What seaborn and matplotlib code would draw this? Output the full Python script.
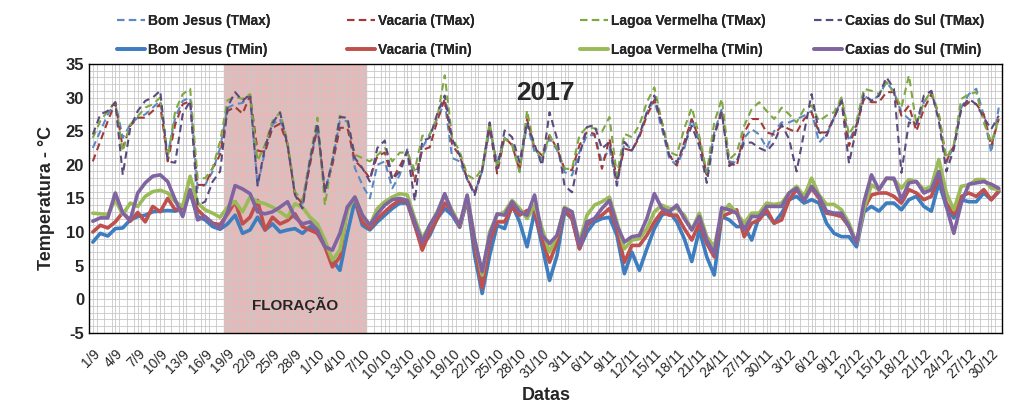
import numpy as np
import pandas as pd
import matplotlib
matplotlib.use('Agg')
import matplotlib.pyplot as plt
import seaborn as sns
from matplotlib.ticker import MultipleLocator

sns.set_style("white")
plt.rcParams['font.family'] = ['Liberation Sans Narrow', 'Liberation Sans', 'DejaVu Sans']
plt.rcParams['axes.unicode_minus'] = False

# ---- data (daily, 1/9/2017 .. 31/12/2017) ----
dates = pd.date_range('2017-09-01', '2017-12-31', freq='D')

bj_max = [22.5, 25, 27.5, 29.3, 24, 26, 27, 27.5, 28.5, 29.5, 21.5, 27, 29.5, 30, 16.5, 17, 19, 22.5,
          28.5, 29, 29.2, 30.3, 16.9, 22, 26, 26.8, 23, 15.7, 14.2, 20.5, 25.5, 15.9, 20.5, 26.5, 26.5,
          19.5, 17, 15, 20, 20.5, 16.5, 18.5, 22.3, 17.8, 22.5, 24.5, 26.8, 29.3, 21, 20.5, 17.8, 15.8, 19,
          25.3, 20.3, 24, 23.1, 19.2, 26, 21.9, 20.9, 23.9, 22.2, 18.9, 18.4, 21.9, 24.4, 24.4, 20.4, 22.4,
          16.9, 23.4, 22.1, 24.4, 27.8, 29.6, 25.4, 20.9, 19.9, 22.4,
          27, 23.3, 18.3, 24.8, 28.3, 20.5, 20.3, 24, 25.3, 24.5, 22.5, 25, 26.3, 26.3, 26.8, 27.3, 28, 23.3,
          24.5, 27, 29.8, 23.5, 26, 30.3, 29.5, 30.3, 32.3, 30.8, 27.8, 26.8, 26, 29.3, 30.8, 26.8, 20.3,
          22.8, 28.5, 30.5, 31.3, 27.3, 21.8, 28.5]
vac_max = [20.5, 23.5, 26.5, 29.2, 22.5, 25.8, 27, 27, 28, 29, 20.5, 26, 29, 29.5, 17, 17, 19.5, 21.5,
           28, 28.6, 27.6, 30.3, 22.1, 21.9, 25.5, 26.1, 23, 15.5, 14.2, 20, 25.6, 16, 20, 25.5, 25.5,
           20.6, 19.5, 18, 21.3, 21.8, 17.8, 19.8, 22, 17.5, 22.2, 22.6, 26.5, 29.8, 22.9, 21.4, 17.9, 15.9, 19.2,
           25.5, 18.7, 24.1, 22.9, 19.2, 26.8, 22.4, 21.4, 24.4, 22.4, 19.4, 19.2, 22.9, 24.9, 24.6, 19.4, 23.9,
           17.9, 22.4, 22.1, 24.1, 27.3, 29.6, 26.4, 21.4, 19.9, 23.4,
           26.8, 23.8, 18.5, 24.5, 28, 20.3, 19.8, 24.8, 26.8, 26.8, 24.8, 24.5, 25.8, 25.3, 24.8, 26.8, 27.8,
           24.8, 24.8, 27, 29.5, 22.8, 25.8, 29.8, 29.3, 29.3, 30.8, 30.8, 27.3, 28.8, 25, 28.3, 30.5, 27.5,
           20.5, 22.8, 28.3, 29.3, 29, 27.5, 22.8, 26.8]
lv_max = [24, 26.5, 28, 29.3, 22, 26, 27.2, 28.5, 29, 30, 21, 28, 30.5, 31.3, 18, 18, 19.5, 23.5,
          29.6, 30.1, 29.8, 30.5, 20.6, 23, 26.5, 27.8, 23.5, 16, 14.7, 21, 27, 14, 21, 27.3, 26.5,
          21.5, 21, 20.5, 21.4, 22.5, 20.5, 21.8, 21.8, 19.2, 24.3, 24.5, 27, 33.3, 24, 22, 18.5, 17.8, 19.5,
          26.3, 19.5, 23.9, 22.9, 18.9, 28.1, 22.4, 20.9, 24.4, 22.4, 19.4, 19.4, 24.4, 25.6, 25.4, 24.9, 27.1,
          18.4, 24.6, 24.1, 25.9, 29.3, 31.5, 26.4, 21.9, 21.4, 25.4,
          28.5, 24.3, 18.8, 26.3, 29.8, 20.8, 21.8, 25.8, 28.3, 29.3, 28, 26.8, 28.5, 27.5, 26.3, 28.3, 28.8,
          26.5, 27.3, 27.8, 30, 24.5, 26.5, 31.3, 31, 30.5, 32.3, 30.8, 28.5, 33.3, 26, 29.3, 31, 27.5, 21, 23,
          29.8, 30.5, 30.8, 26.3, 23.3, 26.8]
cs_max = [24.5, 27.5, 28, 29.3, 18.5, 25.5, 28, 29.5, 30, 31, 20.5, 20.3, 27.5, 29.5, 14, 14.5, 17.5, 19,
          28.6, 30.8, 29.5, 30.5, 16.9, 22.6, 26.2, 27.8, 23, 15.5, 13.5, 20.6, 26.2, 15.9, 20.6, 27.1, 27,
          21, 19.5, 17.5, 22.5, 23.6, 17.8, 19, 22, 14.6, 23.5, 24, 27.6, 30.3, 23.8, 21.4, 17.9, 15.5, 19.2,
          26.3, 19.4, 25.1, 24.1, 20.4, 26.3, 23, 19.9, 27.8, 23.9, 16.9, 15.9, 21.4, 25.6, 25.9, 22.4, 23.4,
          16.9, 23.4, 22.1, 24.4, 27.8, 30.3, 25.9, 21.4, 20.4, 22.9,
          25.8, 22.8, 17.3, 24.3, 27.8, 19.8, 20.5, 23.3, 23.3, 22.5, 22, 23.3, 26, 23.8, 19, 24.8, 30.5, 24.8,
          24.3, 27, 29.5, 20.2, 25.5, 30.5, 29.5, 30.3, 33, 31.3, 18.8, 26.3, 26, 30.3, 31, 26.5, 19, 22.3,
          28.5, 29.8, 29, 27, 25.3, 27.3]

bj_min = [8.5, 9.8, 9.4, 10.5, 10.6, 11.8, 12.3, 12.5, 13, 13.1, 13.2, 13.1, 13.5, 15.8, 12.3, 11.8, 10.8, 10.4,
          11.2, 12.5, 9.8, 10.3, 12.2, 10.3, 11.2, 10, 10.3, 10.5, 9.8, 10.8, 9.8, 8.3, 5.8, 4.3, 9.8,
          14.7, 11, 10.3, 11.5, 12.5, 13.5, 14.3, 14.3, 11, 8, 9.5, 12, 13.5, 12.5, 10.7, 14.8, 6.5, 0.85,
          6.5, 11, 10.5, 14, 11.5, 7.8, 13, 8, 2.8, 6.5, 13, 12, 7.5, 10, 11.5, 12, 12.2, 9.5, 3.8, 7,
          4.3, 7.5, 10.5, 12.5, 13, 11.5, 9,
          5.6, 10.3, 6.3, 3.6, 12.3, 11.8, 10.8, 10.8, 8.8, 12.3, 12.8, 11.3, 12.8, 14.8, 15.3, 14.3, 14.8,
          14.3, 11.3, 9.8, 9.3, 9.3, 7.8, 13, 13.8, 13.1, 14.3, 14.3, 13.3, 14.8, 15.3, 13.8, 13.1, 17.3,
          13.8, 12.1, 14.8, 14.5, 14.5, 15.8, 14.8, 16]
vac_min = [10, 11, 10.6, 11.5, 12.9, 11.6, 12.9, 11.5, 13.8, 13, 15, 13.3, 13.6, 16, 13.3, 12.2, 11.3, 11.1,
           12.7, 14.5, 11.2, 12.2, 14.7, 10.3, 12.2, 11.2, 11.7, 12.7, 10.8, 10.3, 9.8, 7.8, 4.8, 6.3, 13.7,
           15, 11.5, 10.5, 12, 13, 14, 14.7, 14.5, 11, 7.3, 10, 12, 14.3, 13, 10.8, 15, 8, 1.7,
           8.5, 11.5, 11.5, 13.7, 12.5, 13.2, 13, 9, 5.5, 8.5, 13.5, 12, 7.5, 11, 12, 12.5, 13.5, 10.5, 5.5, 8,
           8, 9.5, 11.5, 13, 12.5, 12.5, 10.5,
           8.8, 11.3, 8.3, 6.3, 12.3, 12.8, 13.3, 9.3, 11.3, 11.8, 13.3, 11.3, 11.8, 14.8, 16.3, 14.8, 16.5,
           15, 12.8, 12.6, 12.3, 10.8, 8.3, 13.5, 15.5, 15.8, 15.8, 15.3, 14.3, 16.3, 15.8, 14.8, 15.3, 18.3,
           14.3, 12.6, 15.3, 15.8, 15.3, 16.3, 14.8, 16.1]
lv_min = [12.8, 12.7, 12.6, 14.8, 12.6, 14.3, 13.8, 15.3, 16, 16.2, 15.8, 14.5, 13.8, 18.3, 14.3, 13.3, 12.8, 12.2,
          13.7, 14.5, 13, 15.2, 14.5, 14.2, 13.7, 13, 12.2, 14.2, 13.7, 12.2, 11.2, 8.8, 5.8, 7.3, 13.2,
          15.2, 12.5, 11, 13.5, 14.5, 15.2, 15.7, 15.5, 12, 9, 11, 13, 15.5, 13.2, 11, 15.3, 9, 3.6,
          10, 12.5, 13, 14.7, 13.5, 12, 14, 10.5, 7, 9.5, 13.7, 13, 8.5, 12.5, 14, 14.5, 15.2, 11.5, 7.5, 8.8,
          9, 10.5, 13, 14, 13.5, 13.5, 12.5,
          10.3, 12.8, 9.3, 7.8, 12.8, 14.1, 12.8, 11.3, 12.8, 12.8, 14.3, 14.1, 14.3, 15.8, 16.8, 15.3, 18,
          15.5, 14.1, 14.1, 13.3, 11.3, 8.3, 13.5, 17, 16.3, 18, 17.8, 16.5, 17.8, 17.5, 16.3, 16.8, 20.8,
          15.8, 13.3, 16.8, 17, 17.8, 17.8, 16.5, 16.3]
cs_min = [11.6, 12.1, 12.1, 15.8, 12.8, 11.8, 15.8, 17.3, 18.3, 18.5, 17.5, 14.8, 12.3, 16.3, 11.8, 12.3, 11.3, 10.5,
          13, 16.9, 16.4, 15.7, 13, 12.7, 13, 13.7, 14.5, 12.2, 11.2, 11.5, 10.3, 7.8, 7.3, 9.8, 13.7,
          15.2, 12.5, 11, 12.7, 14, 14.8, 15, 14.7, 11.5, 8.5, 11, 12.8, 15.7, 12.8, 11, 15.5, 8.8, 4.1,
          9.5, 12.7, 12.5, 14.5, 13, 12.5, 15.5, 9.5, 8.3, 9.5, 13.5, 13, 8, 11.5, 12, 13.5, 14.7, 11, 8.5, 9.3,
          9.5, 12, 15.7, 13.5, 13, 14, 12,
          10.3, 12.3, 8.8, 6.8, 13.6, 13.3, 12.8, 10.3, 12.3, 12.3, 13.8, 13.8, 13.8, 15.8, 16.5, 14.6, 16.8,
          15.3, 13.1, 12.8, 12.8, 10.8, 8.3, 14.5, 18.5, 16.3, 18, 18, 14.8, 17.3, 17.5, 15.8, 16.3, 19,
          13.8, 9.8, 14.3, 17.1, 17.3, 17.5, 17.1, 16.5]

stations = ['Bom Jesus', 'Vacaria', 'Lagoa Vermelha', 'Caxias do Sul']
tmax = [bj_max, vac_max, lv_max, cs_max]
tmin = [bj_min, vac_min, lv_min, cs_min]
max_colors = ['#5A8AC6', '#A33A36', '#7FA843', '#5B4A7E']
min_colors = ['#3D7DC0', '#C0504D', '#9BBB59', '#8064A2']

day = np.arange(len(dates))
tick_labels = [f"{d.day}/{d.month}" for d in dates[::3]]

fig = plt.figure(figsize=(10.24, 4.15), dpi=100)
ax = fig.add_axes([0.087, 0.198, 0.892, 0.648])

# floração period 19/9 .. 7/10
ax.axvspan(17.5, 36.5, color='#E6B9B8', zorder=0.5)

for i, st in enumerate(stations):
    sns.lineplot(x=day, y=tmax[i], ax=ax, color=max_colors[i], linestyle=(0, (3.5, 2.2)),
                 linewidth=1.5, label=f'{st} (TMax)', zorder=3)
    sns.lineplot(x=day, y=tmin[i], ax=ax, color=min_colors[i], linewidth=2.6,
                 label=f'{st} (TMin)', zorder=3)

ax.set_xlim(-0.5, len(dates) - 0.5)
ax.set_ylim(-5, 35)
ax.yaxis.set_major_locator(MultipleLocator(5))
ax.yaxis.set_minor_locator(MultipleLocator(1))
ax.set_xticks(day[::3])
ax.set_xticks(np.arange(-0.5, len(dates), 1), minor=True)
ax.set_xticklabels(tick_labels, rotation=45, ha='right', rotation_mode='anchor', fontsize=10)
ax.grid(True, which='both', color='#C8C8C8', linewidth=0.6, zorder=1)
ax.set_axisbelow(True)
for s in ax.spines.values():
    s.set_color('black')
    s.set_linewidth(1.0)
ax.tick_params(axis='x', which='major', direction='out', length=4, color='black', pad=6)
ax.tick_params(axis='x', which='minor', length=0)
ax.tick_params(axis='y', which='both', length=0)
for lab in ax.get_yticklabels():
    lab.set_fontweight('bold')
    lab.set_fontsize(12)

ax.set_ylabel('Temperatura - °C', fontsize=13, fontweight='bold', labelpad=8)
ax.set_xlabel('Datas', fontsize=13, fontweight='bold', labelpad=4)
ax.text(0.50, 0.89, '2017', transform=ax.transAxes, ha='center', va='center',
        fontsize=19, fontweight='bold')
ax.text(27, -0.9, 'FLORAÇÃO', ha='center', va='center', fontsize=11, fontweight='bold')

# legend: one block of two rows per station
h, l = ax.get_legend_handles_labels()
ax.get_legend().remove()
col_x = [117, 347, 580, 814]
for i in range(4):
    leg = fig.legend(h[2 * i:2 * i + 2], l[2 * i:2 * i + 2], loc='upper left',
                     bbox_to_anchor=(col_x[i] / 1024, 1 - 14 / 415), frameon=False,
                     borderpad=0, borderaxespad=0, handlelength=2.0, handletextpad=0.2,
                     labelspacing=1.05, prop={'weight': 'bold', 'size': 10})
    fig.add_artist(leg)

fig.savefig('out.png', dpi=100)
